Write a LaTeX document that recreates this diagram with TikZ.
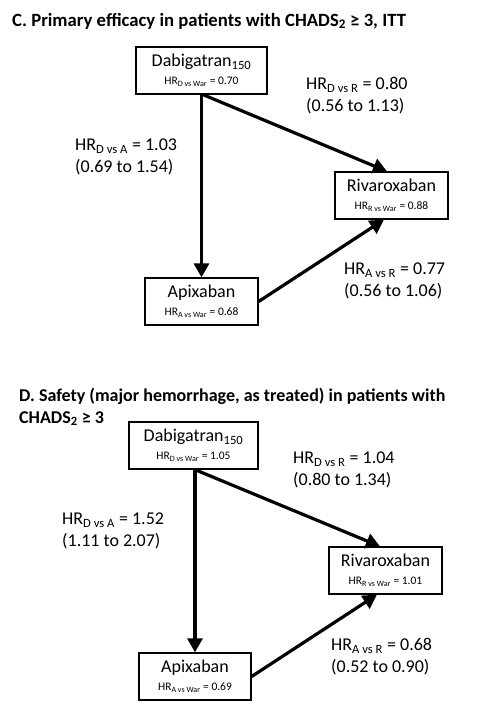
\documentclass[tikz,border=0pt]{standalone}
\usepackage{fontspec}
\setmainfont{Carlito}
\usetikzlibrary{arrows.meta}
\newcommand\hrsub[2]{HR\textsubscript{#1} = #2}
\begin{document}
\begin{tikzpicture}[x=1pt,y=-1pt,
  drugbox/.style={draw,line width=1.3pt,align=center,inner sep=0pt,
    minimum height=47pt,font=\fontsize{18}{20}\selectfont},
  hrlabel/.style={anchor=north west,align=left,inner sep=0pt,font=\fontsize{18}{21.5}\selectfont},
  ttl/.style={anchor=base west,inner sep=0pt,font=\fontsize{18}{22}\selectfont\bfseries},
  conn/.style={line width=3.2pt,-{Triangle[length=14pt,width=15pt]}}]
\useasboundingbox (0,0) rectangle (477,716);
% ---------- Panel C ----------
\node[ttl,font=\fontsize{18.7}{22}\selectfont\bfseries] (tC) at (12,26) {C. Primary efficacy in patients with CHADS\textsubscript{2} ≥ 3, ITT};
\node[drugbox,minimum width=131pt] (Dc) at (201.5,70.5)
  {Dabigatran\textsubscript{150}\\[-2pt]{\fontsize{11.5}{13}\selectfont \hrsub{D vs War}{0.70}}};
\node[drugbox,minimum width=113pt] (Ac) at (201.5,301.5)
  {Apixaban\\[-2pt]{\fontsize{11.5}{13}\selectfont \hrsub{A vs War}{0.68}}};
\node[drugbox,minimum width=113pt] (Rc) at (391.5,195.5)
  {Rivaroxaban\\[-2pt]{\fontsize{11.5}{13}\selectfont \hrsub{R vs War}{0.88}}};
\draw[conn] (Dc.south -| Ac.north) -- (Ac.north);
\draw[conn] ([xshift=1.5pt]Dc.south) -- ([xshift=-4.5pt]Rc.north);
\draw[conn] (Ac.east) -- ([xshift=-7.5pt]Rc.south);
\node[hrlabel] (lDRc) at (306,77) {\hrsub{D vs R}{0.80}\\(0.56 to 1.13)};
\node[hrlabel] (lDAc) at (75,139) {\hrsub{D vs A}{1.03}\\(0.69 to 1.54)};
\node[hrlabel] (lARc) at (344,263) {\hrsub{A vs R}{0.77}\\(0.56 to 1.06)};
% ---------- Panel D ----------
\node[ttl] (tD1) at (19,401) {D. Safety (major hemorrhage, as treated) in patients with};
\node[ttl] (tD2) at (19,423) {CHADS\textsubscript{2} ≥ 3};
\node[drugbox,minimum width=129pt] (Dd) at (193.5,445.5)
  {Dabigatran\textsubscript{150}\\[-2pt]{\fontsize{11.5}{13}\selectfont \hrsub{D vs War}{1.05}}};
\node[drugbox,minimum width=112pt] (Ad) at (195,676.5)
  {Apixaban\\[-2pt]{\fontsize{11.5}{13}\selectfont \hrsub{A vs War}{0.69}}};
\node[drugbox,minimum width=113pt] (Rd) at (385.5,570.5)
  {Rivaroxaban\\[-2pt]{\fontsize{11.5}{13}\selectfont \hrsub{R vs War}{1.01}}};
\draw[conn] (Dd.south -| Ad.north) -- (Ad.north);
\draw[conn] ([xshift=1.5pt]Dd.south) -- ([xshift=-5.5pt]Rd.north);
\draw[conn] (Ad.east) -- ([xshift=-8.5pt]Rd.south);
\node[hrlabel] (lDRd) at (293,452) {\hrsub{D vs R}{1.04}\\(0.80 to 1.34)};
\node[hrlabel] (lDAd) at (62,513) {\hrsub{D vs A}{1.52}\\(1.11 to 2.07)};
\node[hrlabel] (lARd) at (331,638) {\hrsub{A vs R}{0.68}\\(0.52 to 0.90)};
\end{tikzpicture}
\end{document}
